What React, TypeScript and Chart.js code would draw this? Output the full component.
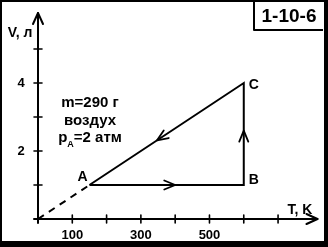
import React, { useEffect, useRef } from "react";
import { Chart, registerables } from "chart.js";
Chart.register(...registerables);

// Cycle A -> B -> C -> A (T in K, V in litres)
const cycleT = [150, 600, 600, 150];
const cycleV = [1, 1, 4, 1];
// Dashed isobar continuation to origin
const dashT = [0, 150];
const dashV = [0, 1];
const pointNames = ["A", "B", "C"];
const xTickValues = [100, 200, 300, 400, 500, 600, 700];
const xTickLabels = ["100", "300", "500"];
const xLabelValues = [100, 300, 500];
const yTickValues = [1, 2, 3, 4, 5];
const yTickLabels = ["2", "4"];
const yLabelValues = [2, 4];
// direction arrows: segment start index, end index, fraction along segment
const arrowSeg = [0, 1, 2];
const arrowFrac = [0.556, 0.533, 0.562];
const infoLines = ["m=290 г", "воздух"];
const problemId = "1-10-6";

const FONT = "'Liberation Sans', Arial, sans-serif";

function chevron(ctx: CanvasRenderingContext2D, x: number, y: number, ang: number, len: number, half: number) {
  const cx = Math.cos(ang), sy = Math.sin(ang);
  const bx = x - cx * len, by = y - sy * len;
  const px = -sy, py = cx;
  ctx.beginPath();
  ctx.moveTo(bx + px * half, by + py * half);
  ctx.lineTo(x, y);
  ctx.lineTo(bx - px * half, by - py * half);
  ctx.stroke();
}

const drawPlugin = {
  id: "physDiagram",
  beforeDraw(chart: any) {
    const ctx: CanvasRenderingContext2D = chart.ctx;
    const W = chart.width, H = chart.height;
    ctx.save();
    ctx.fillStyle = "#000";
    ctx.fillRect(0, 0, W, H);
    ctx.fillStyle = "#fff";
    ctx.fillRect(2, 2, W - 6, H - 8);
    const xs = chart.scales.x, ys = chart.scales.y;
    const x0 = xs.getPixelForValue(0), y0 = ys.getPixelForValue(0);
    ctx.strokeStyle = "#000";
    ctx.lineWidth = 2;
    ctx.lineCap = "round";
    ctx.lineJoin = "round";
    // axes
    const xEnd = xs.right, yEnd = ys.top;
    ctx.beginPath();
    ctx.moveTo(x0 - 4, y0);
    ctx.lineTo(xEnd, y0);
    ctx.moveTo(x0, y0 + 4);
    ctx.lineTo(x0, yEnd);
    ctx.stroke();
    chevron(ctx, xEnd, y0, 0, 11, 5);
    chevron(ctx, x0, yEnd, -Math.PI / 2, 11, 5);
    // ticks
    ctx.lineWidth = 1.6;
    ctx.beginPath();
    xTickValues.forEach((v) => {
      const p = xs.getPixelForValue(v);
      ctx.moveTo(p, y0 - 4);
      ctx.lineTo(p, y0 + 4);
    });
    yTickValues.forEach((v) => {
      const p = ys.getPixelForValue(v);
      ctx.moveTo(x0 - 4, p);
      ctx.lineTo(x0 + 4, p);
    });
    ctx.stroke();
    // tick labels
    ctx.fillStyle = "#000";
    ctx.font = `bold 13px ${FONT}`;
    ctx.textAlign = "center";
    ctx.textBaseline = "middle";
    xLabelValues.forEach((v, i) => {
      ctx.fillText(xTickLabels[i], xs.getPixelForValue(v), y0 + 16);
    });
    yLabelValues.forEach((v, i) => {
      ctx.fillText(yTickLabels[i], x0 - 17, ys.getPixelForValue(v));
    });
    // axis titles
    ctx.font = `bold 14px ${FONT}`;
    ctx.fillText("V, л", 20, 33);
    ctx.fillText("T, K", 300, 210);
    // problem id box
    ctx.lineWidth = 2;
    ctx.lineCap = "butt";
    ctx.beginPath();
    ctx.moveTo(254, 2);
    ctx.lineTo(254, 30);
    ctx.lineTo(323, 30);
    ctx.stroke();
    ctx.font = `bold 19px ${FONT}`;
    ctx.fillText(problemId, 289, 17);
    ctx.restore();
  },
  afterDatasetsDraw(chart: any) {
    const ctx: CanvasRenderingContext2D = chart.ctx;
    const xs = chart.scales.x, ys = chart.scales.y;
    ctx.save();
    ctx.strokeStyle = "#000";
    ctx.fillStyle = "#000";
    ctx.lineWidth = 1.8;
    ctx.lineCap = "round";
    ctx.lineJoin = "round";
    arrowSeg.forEach((s, i) => {
      const ax = xs.getPixelForValue(cycleT[s]), ay = ys.getPixelForValue(cycleV[s]);
      const bx = xs.getPixelForValue(cycleT[s + 1]), by = ys.getPixelForValue(cycleV[s + 1]);
      const f = arrowFrac[i];
      const x = ax + (bx - ax) * f, y = ay + (by - ay) * f;
      chevron(ctx, x, y, Math.atan2(by - ay, bx - ax), 11, 4.5);
    });
    // point labels
    ctx.font = `bold 14px ${FONT}`;
    ctx.textAlign = "center";
    ctx.textBaseline = "middle";
    const offs = [[-7, -8], [10, -5], [10, 2]];
    pointNames.forEach((n, i) => {
      ctx.fillText(n, xs.getPixelForValue(cycleT[i]) + offs[i][0], ys.getPixelForValue(cycleV[i]) + offs[i][1]);
    });
    // info text
    ctx.font = `bold 15px ${FONT}`;
    ctx.fillText(infoLines[0], 90, 103);
    ctx.fillText(infoLines[1], 90, 121);
    // p_A=2 атм
    const pFont = `bold 15px ${FONT}`;
    const subFont = `bold 9px ${FONT}`;
    ctx.font = pFont;
    const wp = ctx.measureText("p").width;
    const rest = "=2 атм";
    const wr = ctx.measureText(rest).width;
    ctx.font = subFont;
    const ws = ctx.measureText("A").width;
    const total = wp + ws + wr;
    let x = 90 - total / 2;
    ctx.textAlign = "left";
    ctx.font = pFont;
    ctx.fillText("p", x, 138);
    x += wp;
    ctx.font = subFont;
    ctx.fillText("A", x, 145);
    x += ws;
    ctx.font = pFont;
    ctx.fillText(rest, x, 138);
    ctx.restore();
  },
};

export default function App() {
  const ref = useRef<HTMLCanvasElement | null>(null);
  useEffect(() => {
    if (!ref.current) return;
    const chart = new Chart(ref.current, {
      type: "scatter",
      data: {
        datasets: [
          {
            data: cycleT.map((t, i) => ({ x: t, y: cycleV[i] })),
            showLine: true,
            borderColor: "#000",
            borderWidth: 2,
            pointRadius: 0,
            tension: 0,
            clip: false,
          } as any,
          {
            data: dashT.map((t, i) => ({ x: t, y: dashV[i] })),
            showLine: true,
            borderColor: "#000",
            borderWidth: 2,
            borderDash: [7, 6],
            pointRadius: 0,
            clip: false,
          } as any,
        ],
      },
      options: {
        animation: false,
        responsive: false,
        devicePixelRatio: 1,
        layout: { padding: { left: 38, right: 10.5, top: 13, bottom: 28 } },
        scales: {
          x: { type: "linear", min: 0, max: 815, display: false },
          y: { type: "linear", min: 0, max: 6.06, display: false },
        },
        plugins: { legend: { display: false }, tooltip: { enabled: false } },
        events: [],
      },
      plugins: [drawPlugin],
    });
    return () => chart.destroy();
  }, []);
  return (
    <div style={{ position: "fixed", left: 0, top: 0, width: 328, height: 247 }}>
      <canvas ref={ref} width={328} height={247} style={{ display: "block" }} />
    </div>
  );
}
